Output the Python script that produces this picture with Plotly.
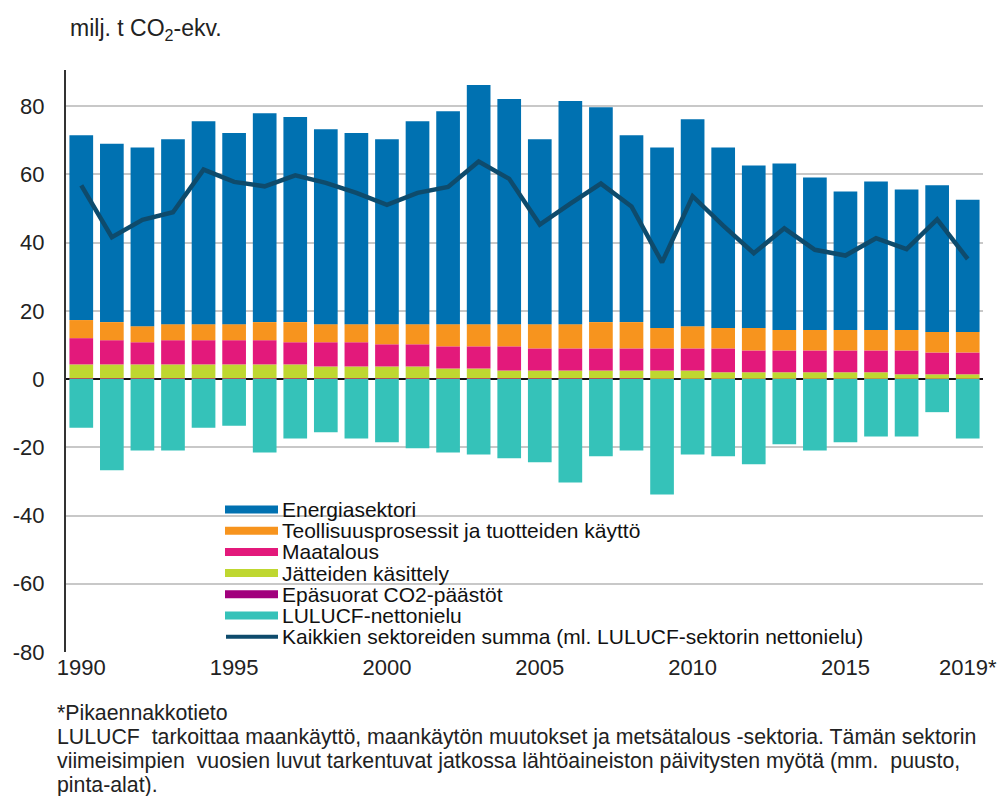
import plotly.graph_objects as go

years = list(range(1990, 2020))

energia = [54.2, 52.3, 52.4, 54.2, 59.5, 56.0, 61.2, 60.1, 57.1, 56.0,
           54.2, 59.5, 62.4, 70.1, 66.0, 54.2, 65.4, 63.0, 54.8, 52.9,
           60.7, 52.9, 47.6, 48.8, 44.7, 40.6, 43.5, 41.2, 43.0, 38.8]
teollisuus = [5.3, 5.3, 4.7, 4.7, 4.7, 4.7, 5.3, 5.9, 5.3, 5.3,
              5.9, 5.9, 6.5, 6.5, 6.5, 7.1, 7.1, 7.7, 7.7, 6.0,
              6.5, 6.0, 6.6, 6.0, 6.0, 6.0, 6.0, 6.0, 6.0, 6.0]
maatalous = [7.7, 7.1, 6.5, 7.1, 7.1, 7.1, 7.1, 6.5, 7.1, 7.1,
             6.5, 6.5, 6.5, 6.5, 7.1, 6.5, 6.5, 6.5, 6.5, 6.5,
             6.5, 7.0, 6.4, 6.4, 6.4, 6.4, 6.4, 7.0, 6.4, 6.4]
jatteet = [4.1, 4.1, 4.1, 4.1, 4.1, 4.1, 4.1, 4.1, 3.5, 3.5,
           3.5, 3.5, 2.9, 2.9, 2.3, 2.3, 2.3, 2.3, 2.3, 2.4,
           2.4, 1.9, 1.9, 1.9, 1.9, 1.9, 1.9, 1.3, 1.3, 1.3]
epasuorat = [0.2, 0.2, 0.2, 0.2, 0.2, 0.2, 0.2, 0.2, 0.2, 0.2,
             0.2, 0.2, 0.2, 0.2, 0.2, 0.2, 0.2, 0.2, 0.2, 0.1,
             0.1, 0.1, 0.1, 0.1, 0.1, 0.1, 0.1, 0.1, 0.1, 0.1]
lulucf = [-14.3, -26.7, -20.9, -20.9, -14.3, -13.7, -21.5, -17.4, -15.6, -17.4,
          -18.5, -20.3, -21.5, -22.1, -23.2, -24.4, -30.3, -22.6, -20.9, -33.8,
          -22.1, -22.6, -25.0, -19.1, -20.9, -18.5, -16.8, -16.8, -9.7, -17.4]
summa = [56.8, 41.6, 46.7, 48.9, 61.4, 57.8, 56.5, 59.7, 57.5, 54.6,
         51.1, 54.6, 56.3, 63.8, 58.7, 45.3, 51.4, 57.3, 50.6, 34.2,
         53.6, 45.0, 36.9, 44.2, 37.9, 36.2, 41.3, 38.1, 46.8, 35.2]

tick_years = [1990, 1995, 2000, 2005, 2010, 2015, 2019]
tick_labels = ["1990", "1995", "2000", "2005", "2010", "2015", "2019*"]
y_ticks = [-80, -60, -40, -20, 0, 20, 40, 60, 80]
y_tick_labels = ["-80", "-60", "-40", "-20", "0", "20", "40", "60", "80"]

names = {
    "energia": "Energiasektori",
    "teollisuus": "Teollisuusprosessit ja tuotteiden käyttö",
    "maatalous": "Maatalous",
    "jatteet": "Jätteiden käsittely",
    "epasuorat": "Epäsuorat CO2-päästöt",
    "lulucf": "LULUCF-nettonielu",
    "summa": "Kaikkien sektoreiden summa (ml. LULUCF-sektorin nettonielu)",
}
colors = {
    "energia": "#0071B1",
    "teollisuus": "#F7941E",
    "maatalous": "#E3197B",
    "jatteet": "#BFD730",
    "epasuorat": "#A1007D",
    "lulucf": "#35C2B9",
    "summa": "#0E4B6C",
}

FONT = "Liberation Sans, Arial, sans-serif"
W, H = 1001, 796
ML, MR, MT, MB = 66, 18, 70, 144
PW, PH = W - ML - MR, H - MT - MB


def px(xp):
    return (xp - ML) / PW


def py(yp):
    return (H - MB - yp) / PH


fig = go.Figure()

stack = [("epasuorat", epasuorat), ("jatteet", jatteet), ("maatalous", maatalous),
         ("teollisuus", teollisuus), ("energia", energia), ("lulucf", lulucf)]
for key, vals in stack:
    fig.add_trace(go.Bar(x=years, y=vals, name=names[key], marker_color=colors[key],
                         marker_line_width=0, showlegend=False))

fig.add_trace(go.Scatter(x=years, y=summa, mode="lines", name=names["summa"],
                         line=dict(color=colors["summa"], width=4.5), showlegend=False))

fig.update_layout(
    width=W, height=H,
    margin=dict(l=ML, r=MR, t=MT, b=MB, autoexpand=False),
    paper_bgcolor="white", plot_bgcolor="white",
    barmode="relative", bargap=0.225,
    font=dict(family=FONT, size=22, color="#222"),
    showlegend=False,
)
fig.update_xaxes(range=[1989.5, 2019.5], tickvals=tick_years, ticktext=tick_labels,
                 showgrid=False, zeroline=False, showline=False, ticks="",
                 automargin=False, tickfont=dict(size=22, color="#222"))
fig.update_yaxes(range=[-80, 90.6], tickvals=y_ticks, ticktext=y_tick_labels, showgrid=True,
                 gridcolor="#c8c8c8", gridwidth=1.5, zeroline=True, zerolinecolor="#111",
                 zerolinewidth=2, showline=True, linecolor="#333", linewidth=2,
                 ticks="", ticklabelstandoff=15, automargin=False,
                 tickfont=dict(size=22, color="#222"))

# legend drawn inside the plot area
legend_keys = ["energia", "teollisuus", "maatalous", "jatteet", "epasuorat", "lulucf", "summa"]
row0, rowstep = 509.5, 21.2
for i, key in enumerate(legend_keys):
    yc = row0 + rowstep * i
    if key == "summa":
        fig.add_shape(type="line", xref="paper", yref="paper",
                      x0=px(226), x1=px(278), y0=py(yc), y1=py(yc),
                      line=dict(color=colors[key], width=4))
    else:
        fig.add_shape(type="rect", xref="paper", yref="paper",
                      x0=px(225), x1=px(278), y0=py(yc - 4), y1=py(yc + 4),
                      fillcolor=colors[key], line=dict(width=0))
    fig.add_annotation(x=px(280), y=py(yc), xref="paper", yref="paper",
                       xanchor="left", yanchor="middle", showarrow=False,
                       text=names[key], font=dict(family=FONT, size=21, color="#111"))

fig.add_annotation(x=px(68), y=py(29), xref="paper", yref="paper",
                   xanchor="left", yanchor="middle", showarrow=False,
                   text="milj. t CO<sub>2</sub>-ekv.", font=dict(size=23, color="#222"))

notes = [
    "*Pikaennakkotieto",
    "LULUCF  tarkoittaa maankäyttö, maankäytön muutokset ja metsätalous -sektoria. Tämän sektorin",
    "viimeisimpien  vuosien luvut tarkentuvat jatkossa lähtöaineiston päivitysten myötä (mm.  puusto,",
    "pinta-alat).",
]
for i, line in enumerate(notes):
    yp = 713 + 24 * i
    fig.add_annotation(x=px(55), y=py(yp), xref="paper", yref="paper",
                       xanchor="left", yanchor="middle", showarrow=False, text=line,
                       font=dict(size=21.3, color="#222"))

fig.write_html("out.html", config={"displayModeBar": False},
               post_script="document.body.style.margin='0';document.body.style.overflow='hidden';")
